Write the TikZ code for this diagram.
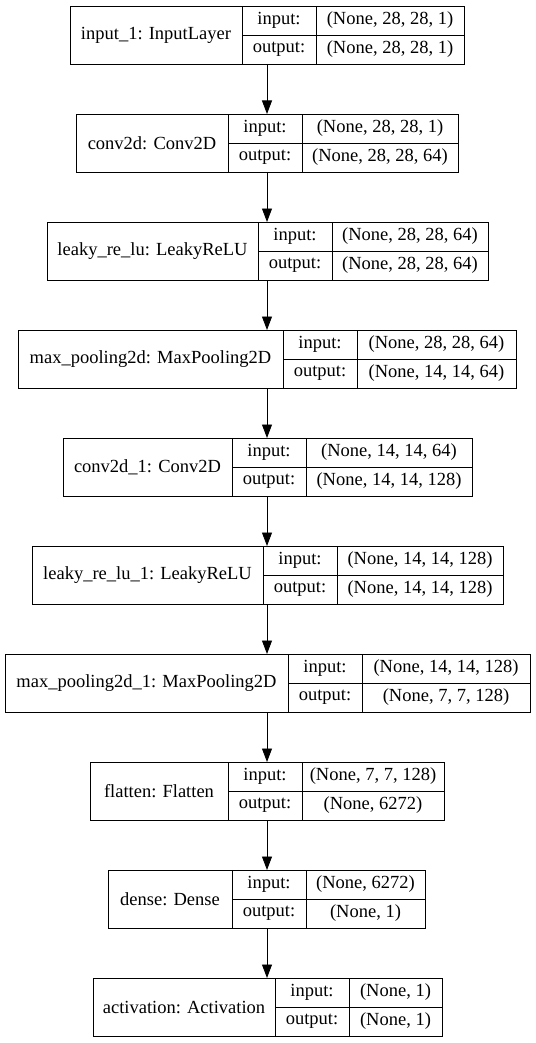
\documentclass[tikz,border=0pt]{standalone}
\usepackage{fontspec}
\setmainfont{Liberation Serif}
\usetikzlibrary{arrows.meta}
\tikzset{
  cell/.style={draw=black, line width=0.9pt, inner sep=0pt, outer sep=0pt, align=center,
    font=\fontsize{18.5}{20}\selectfont, anchor=north west},
  arr/.style={draw=black, line width=0.9pt, -{Triangle[length=13.5pt,width=10pt]}}
}
% name, top, L, d1, d2, R, label, in, out
\newcommand\klayer[9]{%
  \node[cell, minimum width={#4-#3}, minimum height=58] (#1) at (#3,#2) {#7};
  \node[cell, minimum width={#5-#4}, minimum height=29] (#1-il) at (#4,#2) {input:};
  \node[cell, minimum width={#5-#4}, minimum height=29] (#1-ol) at (#4,#2+29) {output:};
  \node[cell, minimum width={#6-#5}, minimum height=29] (#1-is) at (#5,#2) {#8};
  \node[cell, minimum width={#6-#5}, minimum height=29] (#1-os) at (#5,#2+29) {#9};
}
\begin{document}
\begin{tikzpicture}[x=1pt,y=-1pt]
\useasboundingbox (0,0) rectangle (535,1043);
\coordinate (ax) at (267,0);
\klayer{l1}{6}{70}{242}{316}{464}{input\_1: InputLayer}{(None, 28, 28, 1)}{(None, 28, 28, 1)}
\klayer{l2}{114}{76}{228}{302}{458}{conv2d: Conv2D}{(None, 28, 28, 1)}{(None, 28, 28, 64)}
\klayer{l3}{222}{47}{258}{332}{488}{leaky\_re\_lu: LeakyReLU}{(None, 28, 28, 64)}{(None, 28, 28, 64)}
\klayer{l4}{330}{18}{283}{357}{516}{max\_pooling2d: MaxPooling2D}{(None, 28, 28, 64)}{(None, 14, 14, 64)}
\klayer{l5}{438}{63}{232}{306}{472}{conv2d\_1: Conv2D}{(None, 14, 14, 64)}{(None, 14, 14, 128)}
\klayer{l6}{546}{32}{263}{337}{503}{leaky\_re\_lu\_1: LeakyReLU}{(None, 14, 14, 128)}{(None, 14, 14, 128)}
\klayer{l7}{654}{5}{288}{362}{530}{max\_pooling2d\_1: MaxPooling2D}{(None, 14, 14, 128)}{(None, 7, 7, 128)}
\klayer{l8}{762}{90}{228}{302}{444}{flatten: Flatten}{(None, 7, 7, 128)}{(None, 6272)}
\klayer{l9}{870}{108}{232}{306}{425}{dense: Dense}{(None, 6272)}{(None, 1)}
\klayer{l10}{978}{93}{275}{349}{442}{activation: Activation}{(None, 1)}{(None, 1)}
\foreach \a/\b in {l1/l2,l2/l3,l3/l4,l4/l5,l5/l6,l6/l7,l7/l8,l8/l9,l9/l10}
  \draw[arr] (\a.south -| ax) -- (\b.north -| ax);
\end{tikzpicture}
\end{document}
